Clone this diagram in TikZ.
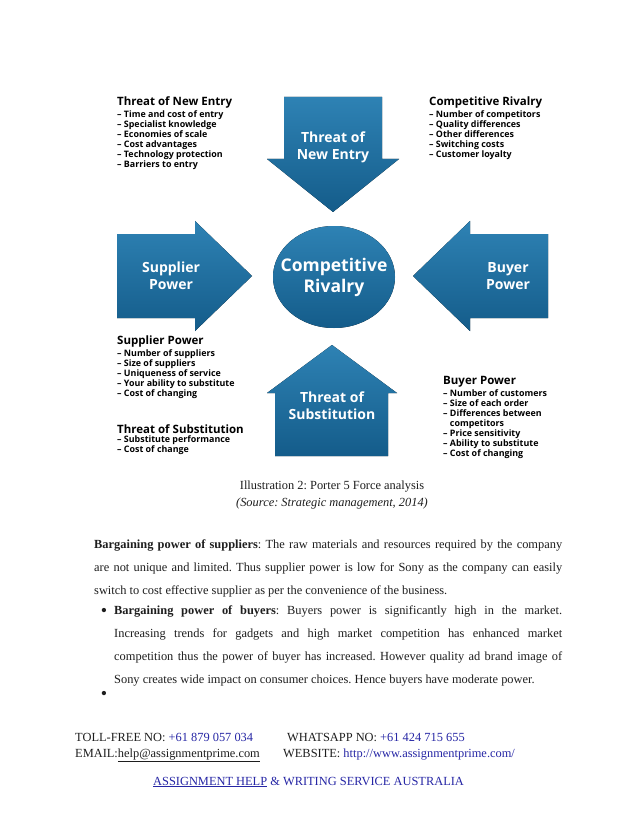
\documentclass[tikz,border=0pt]{standalone}
\usepackage{fontspec}
\setmainfont{Liberation Serif}
\newfontfamily\forcefont{Open Sans}
\usetikzlibrary{positioning}
\frenchspacing

\definecolor{forceLight}{RGB}{46,130,180}
\definecolor{forceDark}{RGB}{20,92,138}
\definecolor{linkBlue}{RGB}{38,38,165}
\definecolor{pageInk}{RGB}{30,30,30}

\tikzset{
    forceShape/.style={top color=forceLight, bottom color=forceDark, draw=none},
    arrowText/.style={text=white, align=center, inner sep=0pt,
        font=\forcefont\bfseries\fontsize{14}{17}\selectfont},
    listTitle/.style={anchor=north west, inner sep=0pt,
        font=\forcefont\bfseries\fontsize{11.5}{13}\selectfont},
    listItems/.style={anchor=north west, inner sep=0pt, align=left,
        font=\forcefont\bfseries\fontsize{8.9}{10}\selectfont},
    bodyText/.style={anchor=north west, inner sep=0pt, align=left, text=pageInk,
        font=\fontsize{12.4}{23}\selectfont},
    footText/.style={anchor=base west, inner sep=0pt, text=pageInk,
        font=\fontsize{12.4}{15}\selectfont},
    bulletMark/.style={anchor=base, inner sep=0pt, text=pageInk,
        font=\fontsize{18}{18}\selectfont},
}

\begin{document}
\begin{tikzpicture}[x=1pt, y=-1pt]
    \useasboundingbox [fill=white] (0,0) rectangle (638,826);
    % the four arrows
    \fill [forceShape] (284,97) -- (382,97) -- (382,159) -- (399,159)
        -- (333,212) -- (267,159) -- (284,159) -- cycle;
    \fill [forceShape] (275,456) -- (388,456) -- (388,393) -- (397,393)
        -- (332,345) -- (267,393) -- (275,393) -- cycle;
    \fill [forceShape] (117,234) -- (195,234) -- (195,221) -- (252,276)
        -- (195,331) -- (195,318) -- (117,318) -- cycle;
    \fill [forceShape] (548,234) -- (470,234) -- (470,221) -- (413,276)
        -- (470,331) -- (470,318) -- (548,318) -- cycle;
    % centre
    \coordinate (rivalryCenter) at (334,277);
    \fill [forceShape] (rivalryCenter) ellipse [x radius=61, y radius=51];
    \node [arrowText] (newEntryText) at (333,147) {Threat of\\New Entry};
    \node [arrowText] (substitutionText) at (332,406) {Threat of\\Substitution};
    \node [arrowText] (supplierText) at (171,276) {Supplier\\Power};
    \node [arrowText] (buyerText) at (508,276) {Buyer\\Power};
    \node [arrowText, font=\forcefont\bfseries\fontsize{17.5}{21}\selectfont]
        (rivalryText) at (rivalryCenter) {Competitive\\Rivalry};
    % the lists
    \node [listTitle] (newEntryTitle) at (117,97) {Threat of New Entry};
    \node [listItems, below=2pt of newEntryTitle.south west, anchor=north west] (newEntryList)
        {– Time and cost of entry\\– Specialist knowledge\\– Economies of scale\\
         – Cost advantages\\– Technology protection\\– Barriers to entry};
    \node [listTitle] (rivalryTitle) at (429,97) {Competitive Rivalry};
    \node [listItems, below=2pt of rivalryTitle.south west, anchor=north west] (rivalryList)
        {– Number of competitors\\– Quality differences\\– Other differences\\
         – Switching costs\\– Customer loyalty};
    \node [listTitle] (supplierTitle) at (117,336) {Supplier Power};
    \node [listItems, below=2pt of supplierTitle.south west, anchor=north west] (supplierList)
        {– Number of suppliers\\– Size of suppliers\\– Uniqueness of service\\
         – Your ability to substitute\\– Cost of changing};
    \node [listTitle] (substitutionTitle) at (117,424) {Threat of Substitution};
    \node [listItems, below=2pt of substitutionTitle.south west, anchor=north west] (substitutionList)
        {– Substitute performance\\– Cost of change};
    \node [listTitle] (buyerTitle) at (443,376) {Buyer Power};
    \node [listItems, below=2pt of buyerTitle.south west, anchor=north west] (buyerList)
        {– Number of customers\\– Size of each order\\– Differences between\\
         \hphantom{– }competitors\\– Price sensitivity\\– Ability to substitute\\– Cost of changing};
    % caption
    \node [footText, anchor=base] (captionMain) at (332,489) {Illustration 2: Porter 5 Force analysis};
    \node [footText, anchor=base, font=\itshape\fontsize{12.4}{15}\selectfont] (captionSource)
        at (332,506) {(Source: Strategic management, 2014)};
    % body text
    \node [bodyText] (suppliersPara) at (94,540)
        {\makebox[468pt][s]{\textbf{Bargaining power of suppliers}: The raw materials and resources required by the company}\\
         \makebox[468pt][s]{are not unique and limited. Thus supplier power is low for Sony as the company can easily}\\
         switch to cost effective supplier as per the convenience of the business.};
    \node [bulletMark] (bulletOne) at (104,616) {•};
    \node [bodyText] (buyersPara) at (114,606)
        {\makebox[448pt][s]{\textbf{Bargaining power of buyers}: Buyers power is significantly high in the market.}\\
         \makebox[448pt][s]{Increasing trends for gadgets and high market competition has enhanced market}\\
         \makebox[448pt][s]{competition thus the power of buyer has increased. However quality ad brand image of}\\
         Sony creates wide impact on consumer choices. Hence buyers have moderate power.};
    \node [bulletMark] (bulletTwo) at (104,699) {•};
    % footer
    \node [footText] (tollFree) at (75,741) {TOLL-FREE NO: \textcolor{linkBlue}{+61 879 057 034}};
    \node [footText] (whatsApp) at (287,741) {WHATSAPP NO: \textcolor{linkBlue}{+61 424 715 655}};
    \node [footText] (emailLine) at (75,757) {EMAIL:\underline{help@assignmentprime.com}};
    \node [footText] (websiteLine) at (283,757) {WEBSITE: \textcolor{linkBlue}{http://www.assignmentprime.com/}};
    \node [footText, text=linkBlue] (serviceLine) at (153,785)
        {\underline{ASSIGNMENT HELP} \& WRITING SERVICE AUSTRALIA};
\end{tikzpicture}
\end{document}
